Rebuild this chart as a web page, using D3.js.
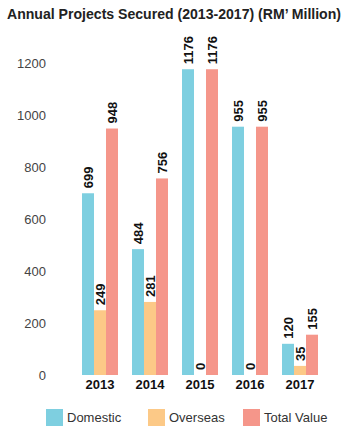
<!DOCTYPE html>
<html>
<head>
<meta charset="utf-8">
<script src="https://cdn.jsdelivr.net/npm/d3@7"></script>
<style>
  body { margin: 0; background: #fff; }
  svg { display: block; font-family: "Liberation Sans", Arial, sans-serif; }
</style>
</head>
<body>
<div id="chart"></div>
<script>
const years = ["2013", "2014", "2015", "2016", "2017"];
const domestic = [699, 484, 1176, 955, 120];
const overseas = [249, 281, 0, 0, 35];
const totalValue = [948, 756, 1176, 955, 155];
const seriesNames = ["Domestic", "Overseas", "Total Value"];
const seriesColors = ["#7ecfe0", "#fcc987", "#f5968a"];
const yTicks = [0, 200, 400, 600, 800, 1000, 1200];

const W = 348, H = 430;
const svg = d3.select("#chart").append("svg").attr("width", W).attr("height", H);

const seriesValues = [domestic, overseas, totalValue];

const x = d3.scaleBand().domain(years).range([75, 325]).paddingInner(0.28).paddingOuter(0.14);
const xs = d3.scaleBand().domain(seriesNames).range([0, x.bandwidth()]);
const y = d3.scaleLinear().domain([0, 1200]).range([375, 63]);

// title
svg.append("text")
  .attr("x", 7).attr("y", 19)
  .attr("textLength", 334).attr("lengthAdjust", "spacingAndGlyphs")
  .style("font-size", "14px").style("font-weight", "bold").attr("fill", "#222")
  .text("Annual Projects Secured (2013-2017) (RM\u2019 Million)");

// y axis labels
const yAxis = d3.axisLeft(y).tickValues(yTicks).tickFormat(d3.format("d")).tickSize(0).tickPadding(0);
const gy = svg.append("g").attr("transform", "translate(46,0)").call(yAxis);
gy.select(".domain").remove();
gy.selectAll("text").style("font-size", "13px").attr("fill", "#444")
  .style("font-family", "'Liberation Sans', Arial, sans-serif");

// bars
const groups = svg.selectAll("g.year").data(years).join("g")
  .attr("class", "year")
  .attr("transform", d => `translate(${x(d)},0)`);

groups.each(function(year, i) {
  const g = d3.select(this);
  const rows = seriesNames.map((name, k) => ({ name, k, v: seriesValues[k][i] }));
  g.selectAll("rect").data(rows).join("rect")
    .attr("x", d => xs(d.name))
    .attr("y", d => y(d.v))
    .attr("width", xs.bandwidth())
    .attr("height", d => y(0) - y(d.v))
    .attr("fill", d => seriesColors[d.k]);
  g.selectAll("text.val").data(rows).join("text")
    .attr("class", "val")
    .attr("transform", d => `translate(${xs(d.name) + xs.bandwidth() / 2},${y(d.v) - 5}) rotate(-90)`)
    .attr("dominant-baseline", "central")
    .attr("text-anchor", "start")
    .style("font-size", "13px").style("font-weight", "bold").attr("fill", "#111")
    .text(d => d.v);
});

// x axis labels
const xAxis = d3.axisBottom(x).tickSize(0).tickPadding(0);
const gx = svg.append("g").attr("transform", "translate(0,380)").call(xAxis);
gx.select(".domain").remove();
gx.selectAll("text").style("font-size", "13px").style("font-weight", "bold").attr("fill", "#111")
  .style("font-family", "'Liberation Sans', Arial, sans-serif");

// legend
const legendX = [46, 148, 243];
const lg = svg.selectAll("g.legend").data(seriesNames).join("g")
  .attr("class", "legend")
  .attr("transform", (d, i) => `translate(${legendX[i]},409)`);
lg.append("rect").attr("width", 17).attr("height", 17).attr("fill", (d, i) => seriesColors[i]);
lg.append("text").attr("x", 21).attr("y", 8.5).attr("dominant-baseline", "central")
  .style("font-size", "13px").attr("fill", "#333").text(d => d);
</script>
</body>
</html>
